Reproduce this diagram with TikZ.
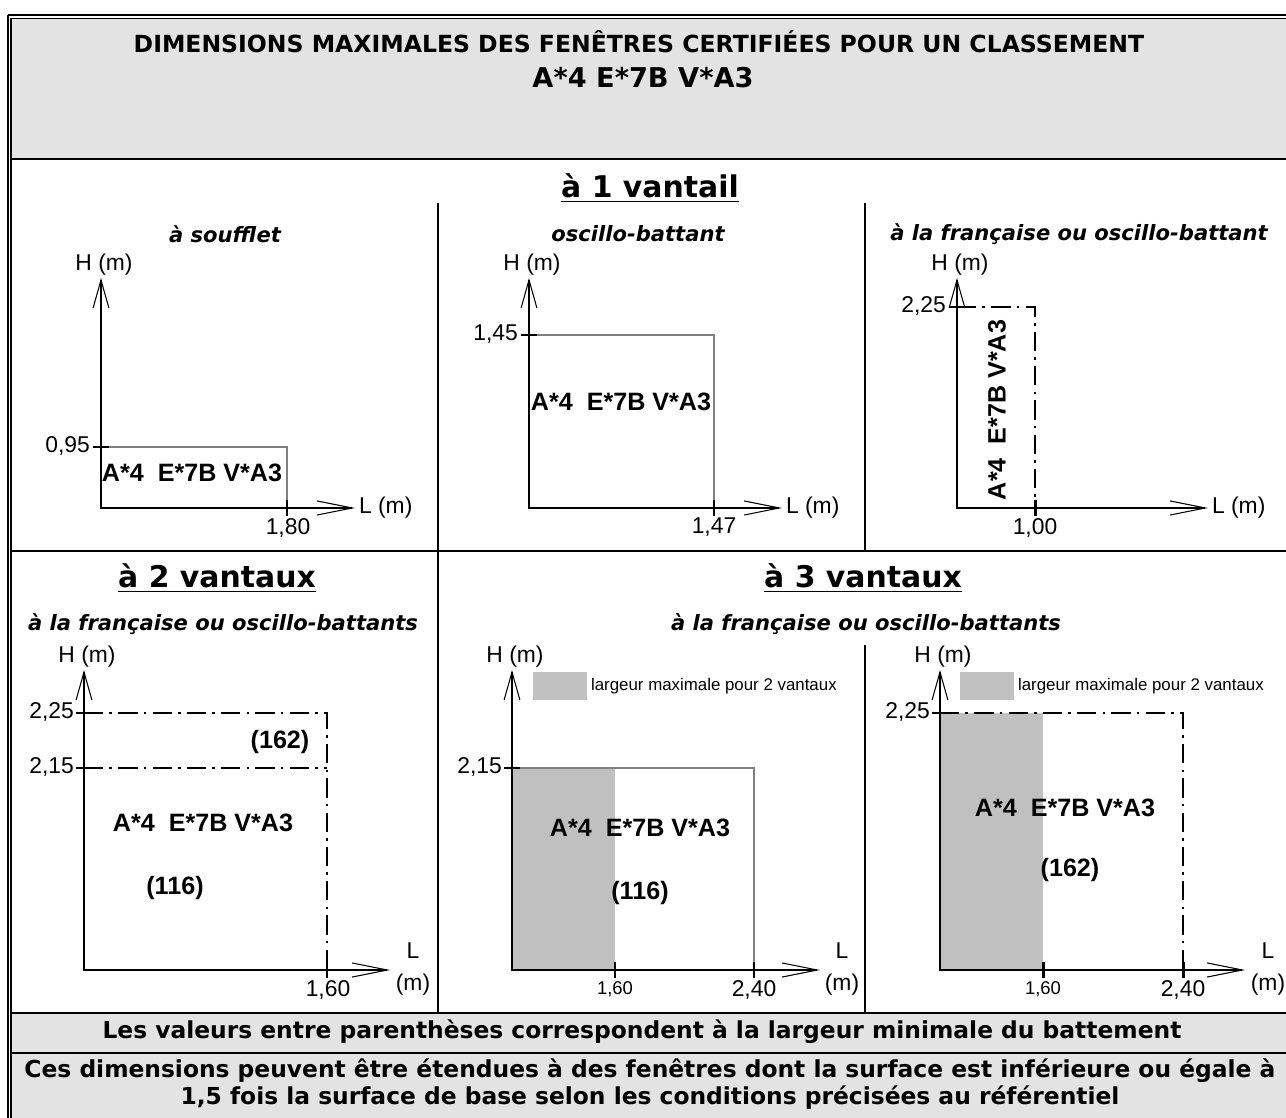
\documentclass[tikz,border=0pt]{standalone}
\usepackage{fontspec}
\setmainfont{Liberation Sans}
\newfontfamily\verdana{DejaVu Sans}
\usetikzlibrary{arrows.meta}
\definecolor{panelgray}{HTML}{E3E3E3}
\definecolor{shadegray}{HTML}{C0C0C0}
\definecolor{limitgray}{HTML}{808080}
\tikzset{frame/.style={line width=1.1pt}}
\tikzset{axes/.style={line width=1.7pt, {Straight Barb[length=16pt,width=9pt,line width=0.6pt]}-{Straight Barb[length=20pt,width=8pt,line width=0.6pt]}}}
\tikzset{tick/.style={line width=1.7pt}}
\tikzset{limit/.style={draw=limitgray,line width=1.1pt}}
\tikzset{dashdot/.style={line width=0.9pt,dash pattern=on 11pt off 3.5pt on 1.5pt off 3.5pt}}
\tikzset{axlabel/.style={font=\fontsize{13}{18}\selectfont,inner sep=1pt,align=center}}
\tikzset{smalllabel/.style={font=\fontsize{10.5}{12}\selectfont,inner sep=1pt}}
\tikzset{classe/.style={font=\bfseries\fontsize{14.3}{16}\selectfont,inner sep=0pt}}
\tikzset{legend/.style={font=\fontsize{9.6}{11}\selectfont,inner sep=1pt}}
\tikzset{title/.style={font=\verdana\bfseries\fontsize{13.4}{16}\selectfont}}
\tikzset{heading/.style={font=\verdana\bfseries\fontsize{17}{20}\selectfont}}
\tikzset{subheading/.style={font=\verdana\bfseries\itshape\fontsize{12}{14}\selectfont}}
\tikzset{banner/.style={font=\verdana\bfseries\fontsize{13.3}{15.3}\selectfont,align=center}}
\newcommand{\classement}{A*4~~E*7B V*A3}

\begin{document}
\begin{tikzpicture}[x=0.02cm, y=-0.02cm]
\useasboundingbox (0,0) rectangle (1286,1118);
% table
\fill[panelgray] (11,18) rectangle (1290,159);
\fill[panelgray] (11,1013) rectangle (1290,1125);
\draw[line width=1.4pt] (8,15) -- (1290,15);
\draw[line width=1pt] (11,18.5) -- (1290,18.5);
\draw[line width=1.4pt] (8,15) -- (8,1125);
\draw[line width=0.8pt] (11,18.5) -- (11,1125);
\foreach \y in {159,551,1013,1053}
\draw[frame] (11,\y) -- (1290,\y);
\draw[frame] (438,203) -- (438,1013);
\draw[frame] (865,203) -- (865,551) (865,645) -- (865,1013);

\node[title] (title) at (639,42) {DIMENSIONS MAXIMALES DES FENÊTRES CERTIFIÉES POUR UN CLASSEMENT};
\node[title, font=\verdana\bfseries\fontsize{15.5}{18}\selectfont] (classement) at (643,78) {A*4 E*7B V*A3};
\node[heading] (vantail-1) at (650,188) {\underline{à 1 vantail}};
\node[heading] (vantail-2) at (217,578) {\underline{à 2 vantaux}};
\node[heading] (vantail-3) at (863,578) {\underline{à 3 vantaux}};
\node[subheading] (type-1) at (225,234) {à soufflet};
\node[subheading] (type-2) at (638,234) {oscillo-battant};
\node[subheading] (type-3) at (1079,234) {à la française ou oscillo-battant};
\node[subheading] (type-4) at (223,624) {à la française ou oscillo-battants};
\node[subheading] (type-5) at (866,624) {à la française ou oscillo-battants};

% shaded widths
\fill[shadegray] (512,768) rectangle (615,970);
\fill[shadegray] (940,713) rectangle (1043,970);
\fill[shadegray] (533,672) rectangle (587,700);
\fill[shadegray] (960,672) rectangle (1014,700);

% limits
\draw[limit] (101,447) -| (287,508);
\draw[limit] (529,335) -| (714,508);
\draw[dashdot] (957,307) -| (1035,508);
\draw[dashdot] (84,713) -| (327,970);
\draw[dashdot] (84,768) -- (327,768);
\draw[limit] (512,768) -| (754,970);
\draw[dashdot] (940,713) -| (1183,970);

% axes
\foreach \ox/\oy/\top/\xend [count=\i] in {101/508/278/355, 529/508/278/782, 957/508/278/1208, 84/970/670/390, 512/970/670/820, 940/970/670/1245}
{
\draw[axes] (\ox,\top) -- (\ox,\oy) -- (\xend,\oy);
\node[axlabel] (H-\i) at (\ox+3,\top-13) {H (m)};
}
\foreach \i/\x in {1/355, 2/782, 3/1208}
\node[axlabel, anchor=west] (L-\i) at (\x+2,508) {L (m)};
\foreach \i/\x in {4/413, 5/842, 6/1268}
\node[axlabel] (L-\i) at (\x,969) {L\\(m)};

% ticks
\foreach \ox/\y in {101/447, 529/335, 957/307, 84/713, 84/768, 512/768, 940/713}
\draw[tick] (\ox-8,\y) -- (\ox+8,\y);
\foreach \x/\oy in {287/508, 714/508, 1035/508, 327/970, 615/970, 754/970, 1043/970, 1183/970}
\draw[tick] (\x,\oy-8) -- (\x,\oy+8);

\foreach \x/\y/\v [count=\i] in {92/446/0{,}95, 520/334/1{,}45, 948/306/2{,}25, 76/712/2{,}25, 76/767/2{,}15, 504/767/2{,}15, 932/712/2{,}25}
\node[axlabel, anchor=east] (yval-\i) at (\x,\y) {\v};
\foreach \x/\y/\v [count=\i] in {288/516/1{,}80, 714/516/1{,}47, 1035/516/1{,}00, 328/978/1{,}60, 754/978/2{,}40, 1183/978/2{,}40}
\node[axlabel, anchor=north] (xval-\i) at (\x,\y) {\v};
\node[smalllabel, anchor=north] (xval-7) at (615,980) {1,60};
\node[smalllabel, anchor=north] (xval-8) at (1043,980) {1,60};

\node[legend, anchor=west] (legend-5) at (589,686) {largeur maximale pour 2 vantaux};
\node[legend, anchor=west] (legend-6) at (1016,686) {largeur maximale pour 2 vantaux};

% classes
\node[classe] (classe-1) at (192,473) {\classement};
\node[classe] (classe-2) at (621,402) {\classement};
\node[classe, rotate=90] (classe-3) at (997,410) {\classement};
\node[classe] (classe-4) at (203,823) {\classement};
\node[classe] (classe-5) at (640,828) {\classement};
\node[classe] (classe-6) at (1065,808) {\classement};
\node[classe] (battement-4a) at (280,742) {(162)};
\node[classe] (battement-4b) at (175,888) {(116)};
\node[classe] (battement-5) at (640,893) {(116)};
\node[classe] (battement-6) at (1070,870) {(162)};

\node[banner] (note-1) at (642,1032) {Les valeurs entre parenthèses correspondent à la largeur minimale du battement};
\node[banner] (note-2) at (650,1084) {Ces dimensions peuvent être étendues à des fenêtres dont la surface est inférieure ou égale à\\1,5 fois la surface de base selon les conditions précisées au référentiel};
\end{tikzpicture}
\end{document}
